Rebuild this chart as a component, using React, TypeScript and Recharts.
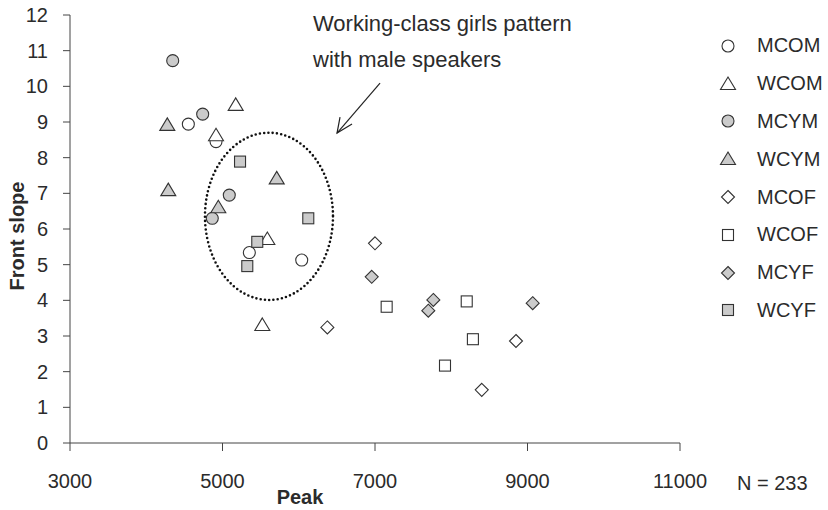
import {
  ReferenceArea,
  ReferenceDot,
  ReferenceLine,
  Scatter,
  ScatterChart,
  XAxis,
  YAxis,
} from "recharts";

const FONT = '"Liberation Sans", Arial, Helvetica, sans-serif';
const GRAY = "#cbcbcb";
const INK = "#2b2b2b";

// Peak (Hz) / front slope
const MCOM = [
  { peak: 4552, slope: 8.94 },
  { peak: 4915, slope: 8.45 },
  { peak: 5352, slope: 5.34 },
  { peak: 6039, slope: 5.13 },
];
const WCOM = [
  { peak: 5173, slope: 9.48 },
  { peak: 4915, slope: 8.63 },
  { peak: 5588, slope: 5.72 },
  { peak: 5522, slope: 3.31 },
];
const MCYM = [
  { peak: 4347, slope: 10.72 },
  { peak: 4740, slope: 9.22 },
  { peak: 5089, slope: 6.95 },
  { peak: 4866, slope: 6.3 },
];
const WCYM = [
  { peak: 4276, slope: 8.92 },
  { peak: 5711, slope: 7.42 },
  { peak: 4289, slope: 7.09 },
  { peak: 4945, slope: 6.61 },
];
const MCOF = [
  { peak: 7000, slope: 5.6 },
  { peak: 6375, slope: 3.24 },
  { peak: 8849, slope: 2.86 },
  { peak: 8400, slope: 1.49 },
];
const WCOF = [
  { peak: 7153, slope: 3.82 },
  { peak: 8203, slope: 3.97 },
  { peak: 8284, slope: 2.91 },
  { peak: 7918, slope: 2.17 },
];
const MCYF = [
  { peak: 6957, slope: 4.66 },
  { peak: 7765, slope: 4.01 },
  { peak: 7699, slope: 3.71 },
  { peak: 9068, slope: 3.92 },
];
const WCYF = [
  { peak: 5230, slope: 7.89 },
  { peak: 6125, slope: 6.3 },
  { peak: 5456, slope: 5.64 },
  { peak: 5325, slope: 4.96 },
];

const xTicks = [3000, 5000, 7000, 9000, 11000];
const yTicks = [0, 1, 2, 3, 4, 5, 6, 7, 8, 9, 10, 11, 12];

// circled group + arrow pointing at it
const ellipseBox = { x1: 4770, x2: 6449, y1: 4.01, y2: 8.7 };
const arrowFrom = { x: 7066, y: 10.09 };
const arrowTo = { x: 6502, y: 8.69 };

type Kind = "circle" | "triangle" | "square" | "diamond";

const series: { name: string; data: typeof MCOM; kind: Kind; filled: boolean }[] = [
  { name: "MCOM", data: MCOM, kind: "circle", filled: false },
  { name: "WCOM", data: WCOM, kind: "triangle", filled: false },
  { name: "MCYM", data: MCYM, kind: "circle", filled: true },
  { name: "WCYM", data: WCYM, kind: "triangle", filled: true },
  { name: "MCOF", data: MCOF, kind: "diamond", filled: false },
  { name: "WCOF", data: WCOF, kind: "square", filled: false },
  { name: "MCYF", data: MCYF, kind: "diamond", filled: true },
  { name: "WCYF", data: WCYF, kind: "square", filled: true },
];

function Marker({ kind, filled, cx, cy }: { kind: Kind; filled: boolean; cx: number; cy: number }) {
  const common = { fill: filled ? GRAY : "#fff", stroke: "#333", strokeWidth: 1.1 };
  if (kind === "circle") return <circle cx={cx} cy={cy} r={6} {...common} />;
  if (kind === "square")
    return <rect x={cx - 5.5} y={cy - 5.5} width={11} height={11} {...common} />;
  if (kind === "triangle")
    return (
      <polygon
        points={`${cx},${cy - 7} ${cx + 7.5},${cy + 5.5} ${cx - 7.5},${cy + 5.5}`}
        {...common}
      />
    );
  return (
    <polygon
      points={`${cx},${cy - 6.5} ${cx + 6.5},${cy} ${cx},${cy + 6.5} ${cx - 6.5},${cy}`}
      {...common}
    />
  );
}

export default function App() {
  return (
    <div style={{ position: "absolute", left: 0, top: 0, width: 828, height: 510, fontFamily: FONT }}>
      <ScatterChart width={828} height={510} margin={{ top: 15, right: 148, bottom: 0, left: 0 }}>
        <XAxis
          type="number"
          dataKey="peak"
          domain={[3000, 11000]}
          ticks={xTicks}
          interval={0}
          height={67}
          tickSize={8}
          tickMargin={23}
          stroke="#444"
          tick={{ fontSize: 20, fill: INK, fontFamily: FONT }}
        />
        <YAxis
          type="number"
          dataKey="slope"
          domain={[0, 12]}
          ticks={yTicks}
          interval={0}
          width={70}
          tickSize={7}
          tickMargin={15}
          stroke="#444"
          tick={{ fontSize: 20, fill: INK, fontFamily: FONT }}
        />

        <ReferenceArea
          {...ellipseBox}
          ifOverflow="visible"
          shape={(p: any) => (
            <ellipse
              cx={p.x + p.width / 2}
              cy={p.y + p.height / 2}
              rx={p.width / 2}
              ry={p.height / 2}
              fill="none"
              stroke="#111"
              strokeWidth={2.6}
              strokeDasharray="0 4.3"
              strokeLinecap="round"
            />
          )}
        />
        <ReferenceLine
          segment={[arrowFrom, arrowTo]}
          stroke="#222"
          strokeWidth={1.2}
          ifOverflow="visible"
        />
        <ReferenceDot
          {...arrowTo}
          ifOverflow="visible"
          shape={(p: any) => (
            <polyline
              points={`${p.cx + 15},${p.cy - 9} ${p.cx},${p.cy} ${p.cx + 3},${p.cy - 16}`}
              fill="none"
              stroke="#222"
              strokeWidth={1.2}
            />
          )}
        />

        {series.map((s) => (
          <Scatter
            key={s.name}
            name={s.name}
            data={s.data}
            isAnimationActive={false}
            shape={(p: any) => <Marker kind={s.kind} filled={s.filled} cx={p.cx} cy={p.cy} />}
          />
        ))}

        <text x={313} y={31} fontSize={22} fill={INK} fontFamily={FONT}>
          Working-class girls pattern
        </text>
        <text x={313} y={67} fontSize={22} fill={INK} fontFamily={FONT}>
          with male speakers
        </text>
        <text x={300} y={504} fontSize={20} fontWeight="bold" fill={INK} textAnchor="middle" fontFamily={FONT}>
          Peak
        </text>
        <text
          x={24}
          y={236}
          fontSize={20}
          fontWeight="bold"
          fill={INK}
          textAnchor="middle"
          transform="rotate(-90 24 236)"
          fontFamily={FONT}
        >
          Front slope
        </text>
        <text x={737} y={490} fontSize={20} fill={INK} fontFamily={FONT}>
          N = 233
        </text>
      </ScatterChart>

      {/* legend drawn by hand */}
      <div style={{ position: "absolute", left: 715, top: 27, width: 113 }}>
        {series.map((s) => (
          <div key={s.name} style={{ display: "flex", alignItems: "center", height: 37.8 }}>
            <svg width={28} height={20} style={{ flex: "none" }}>
              <Marker kind={s.kind} filled={s.filled} cx={13} cy={10} />
            </svg>
            <span style={{ marginLeft: 14, fontSize: 20, color: INK }}>{s.name}</span>
          </div>
        ))}
      </div>
    </div>
  );
}
